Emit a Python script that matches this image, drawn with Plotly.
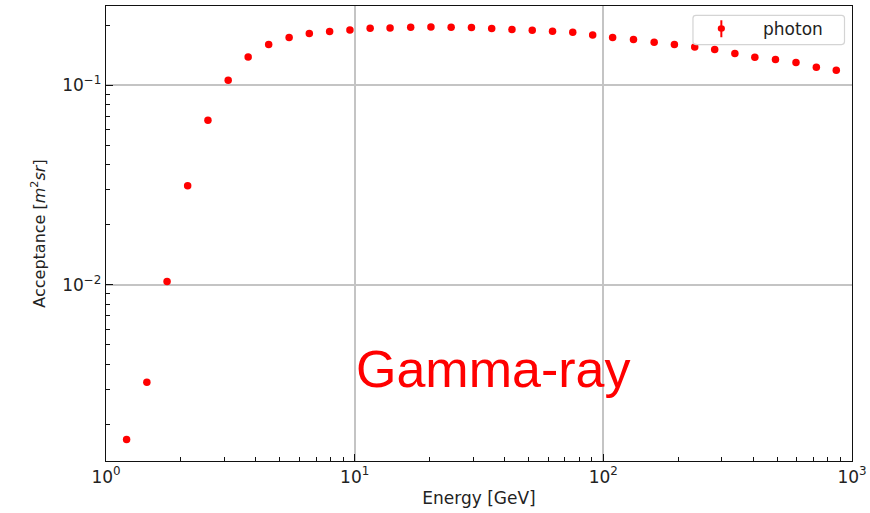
import plotly.graph_objects as go

# Photon acceptance versus energy
energy_gev = [1.21, 1.46, 1.76, 2.13, 2.57, 3.10, 3.73, 4.51, 5.45, 6.57,
              7.93, 9.57, 11.54, 13.88, 16.80, 20.26, 24.43, 29.49, 35.57, 42.91,
              51.78, 62.47, 75.34, 90.6, 109.0, 132.2, 160.1, 193.1, 233.1, 280.4,
              338.1, 406.7, 492.3, 595.3, 718.7, 864.5]
acceptance = [0.00168, 0.00325, 0.01039, 0.03136, 0.0668, 0.1059, 0.1385, 0.1598, 0.1732, 0.1814,
              0.1856, 0.1891, 0.1928, 0.1934, 0.1950, 0.1957, 0.1950, 0.1943, 0.1921, 0.1899,
              0.1884, 0.1862, 0.1841, 0.1784, 0.1732, 0.1692, 0.1641, 0.1598, 0.1554, 0.1508,
              0.1440, 0.1380, 0.1344, 0.1299, 0.1230, 0.1189]

x_major = [1, 10, 100, 1000]
x_major_text = ["10<sup>0</sup>", "10<sup>1</sup>", "10<sup>2</sup>", "10<sup>3</sup>"]
y_major = [0.01, 0.1]
y_major_text = ["10<sup>\u22122</sup>", "10<sup>\u22121</sup>"]
x_minor = [m * d for d in (1, 10, 100) for m in range(2, 10)]
y_minor = [m * d for d in (0.001, 0.01, 0.1) for m in range(2, 10)]

W, H = 870, 513
L, R, T, B = 105.7, 852.5, 5.7, 461.5


def px(x):
    return (x - L) / (R - L)


def py(y):
    return (B - y) / (B - T)


fig = go.Figure()
fig.add_trace(go.Scatter(
    x=energy_gev, y=acceptance, mode="markers", name="photon",
    marker=dict(color="#ff0000", size=7.5, line=dict(width=0)),
    showlegend=False,
))

axis_common = dict(
    type="log", showline=True, linecolor="#111", linewidth=1.4, mirror=True,
    ticks="inside", ticklen=7, tickwidth=1.2, tickcolor="#111",
    showgrid=True, gridcolor="#c4c4c4", gridwidth=1.6, zeroline=False,
    tickfont=dict(family="DejaVu Sans", size=17, color="#222"),
)

fig.update_xaxes(
    **axis_common, range=[0, 3], tickvals=x_major, ticktext=x_major_text,
    minor=dict(tickvals=x_minor, ticks="inside", ticklen=4, tickwidth=1.1,
               tickcolor="#111", showgrid=False),
    title=dict(text="Energy [GeV]", standoff=6,
               font=dict(family="DejaVu Sans", size=17, color="#222")),
)
fig.update_yaxes(
    **axis_common, range=[-2.8825, -0.6035], tickvals=y_major, ticktext=y_major_text,
    minor=dict(tickvals=y_minor, ticks="inside", ticklen=4, tickwidth=1.1,
               tickcolor="#111", showgrid=False),
    title=dict(text="Acceptance [<i>m</i><sup>2</sup><i>sr</i>]", standoff=12,
               font=dict(family="DejaVu Sans", size=16, color="#222")),
)

# Legend box drawn by hand so the entry shows an error-bar glyph
lx0, ly0, lx1, ly1, rr = 693.3, 15, 845, 44.3, 3
path = (f"M {px(lx0+rr)},{py(ly0)} L {px(lx1-rr)},{py(ly0)} "
        f"Q {px(lx1)},{py(ly0)} {px(lx1)},{py(ly0+rr)} "
        f"L {px(lx1)},{py(ly1-rr)} Q {px(lx1)},{py(ly1)} {px(lx1-rr)},{py(ly1)} "
        f"L {px(lx0+rr)},{py(ly1)} Q {px(lx0)},{py(ly1)} {px(lx0)},{py(ly1-rr)} "
        f"L {px(lx0)},{py(ly0+rr)} Q {px(lx0)},{py(ly0)} {px(lx0+rr)},{py(ly0)} Z")
fig.add_shape(type="path", path=path, xref="paper", yref="paper",
              fillcolor="rgba(255,255,255,0.85)", line=dict(color="#d4d4d4", width=1.2))
fig.add_shape(type="line", xref="paper", yref="paper",
              x0=px(721.7), x1=px(721.7), y0=py(20), y1=py(37),
              line=dict(color="#ff0000", width=2))
fig.add_shape(type="circle", xref="paper", yref="paper",
              x0=px(721.7 - 3.6), x1=px(721.7 + 3.6), y0=py(28.3 - 3.3), y1=py(28.3 + 3.3),
              fillcolor="#ff0000", line=dict(width=0))
fig.add_annotation(text="photon", xref="paper", yref="paper", x=px(761), y=py(28.5),
                   xanchor="left", yanchor="middle", showarrow=False,
                   font=dict(family="DejaVu Sans", size=17, color="#222"))

fig.add_annotation(text="Gamma-ray", xref="paper", yref="paper", x=px(493.5), y=py(369),
                   xanchor="center", yanchor="middle", showarrow=False,
                   font=dict(family="Liberation Sans", size=52, color="#ff0000"))

fig.update_layout(
    width=W, height=H, margin=dict(l=L, r=W - R, t=T, b=H - B, autoexpand=False),
    paper_bgcolor="white", plot_bgcolor="white",
)

fig.write_html("out.html")
